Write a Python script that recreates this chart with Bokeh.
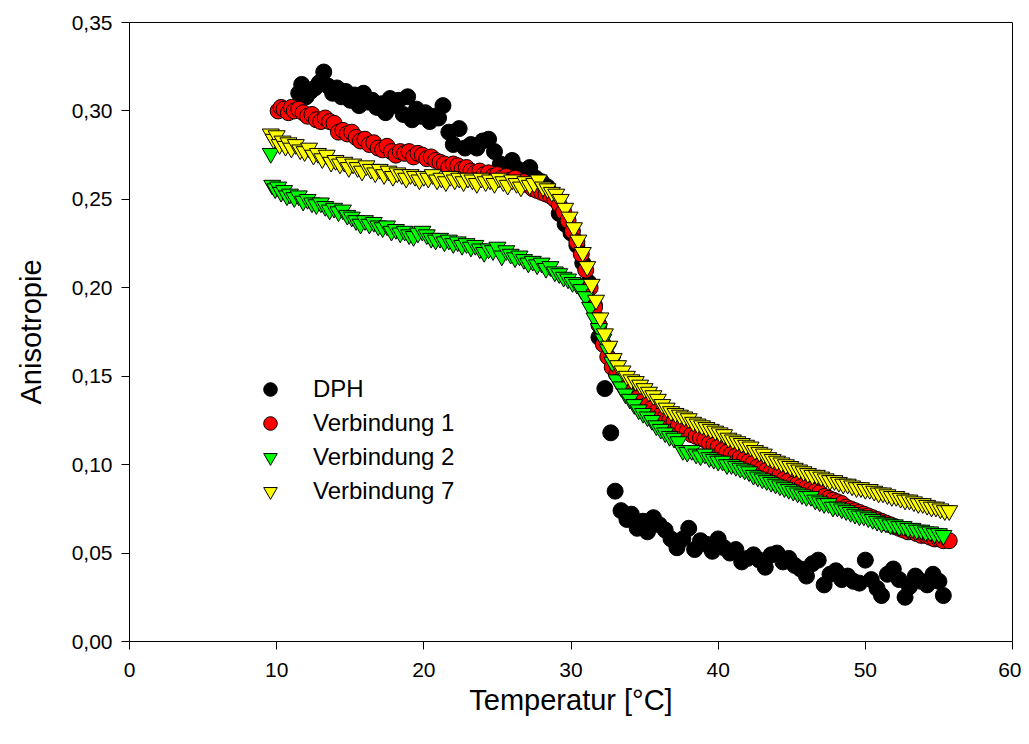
from bokeh.plotting import figure
from bokeh.models import Range1d, FixedTicker, Legend, LegendItem
from bokeh.embed import file_html
from bokeh.resources import INLINE

# ---------------- data ----------------
dph_t = [11.3, 11.5, 11.7, 12.0, 12.3, 12.6, 12.9, 13.2, 13.5, 13.8, 14.1, 14.4, 14.7, 15.0, 15.3,
         15.6, 15.9, 16.2, 16.5, 16.8, 17.1, 17.4, 17.7, 18.0, 18.3, 18.6, 18.9, 19.2, 19.5, 19.8,
         20.1, 20.4, 20.7, 21.0, 21.3, 21.7, 22.0, 22.4, 22.8, 23.2, 23.6, 24.0, 24.4, 24.8, 25.2,
         25.6, 26.0, 26.4, 26.8, 27.2, 27.6, 28.0, 28.4, 28.8, 29.2, 29.6, 30.0, 30.4, 30.8, 31.2,
         31.6, 31.9, 32.3, 32.7, 33.0, 33.4, 33.8, 34.1, 34.5, 34.9, 35.2, 35.6, 36.0, 36.4, 36.8,
         37.2, 37.6, 38.0, 38.4, 38.8, 39.2, 39.6, 40.0, 40.4, 40.8, 41.2, 41.6, 42.0, 42.4, 42.8,
         43.2, 43.6, 44.0, 44.4, 44.8, 45.2, 45.6, 46.0, 46.4, 46.8, 47.2, 47.6, 48.0, 48.4, 48.8,
         49.2, 49.6, 50.0, 50.4, 50.8, 51.1, 51.5, 51.9, 52.3, 52.7, 53.0, 53.4, 53.8, 54.2, 54.6,
         55.0, 55.3]
dph_a = [0.302, 0.310, 0.315, 0.308, 0.311, 0.313, 0.316, 0.322, 0.314, 0.310, 0.313, 0.308, 0.311, 0.306, 0.309,
         0.303, 0.310, 0.305, 0.306, 0.302, 0.304, 0.299, 0.307, 0.303, 0.306, 0.298, 0.308, 0.295, 0.301, 0.297,
         0.299, 0.294, 0.297, 0.296, 0.303, 0.288, 0.281, 0.290, 0.279, 0.281, 0.279, 0.283, 0.284, 0.277, 0.270,
         0.268, 0.272, 0.267, 0.266, 0.268, 0.262, 0.260, 0.257, 0.252, 0.242, 0.236, 0.231, 0.224, 0.214, 0.203,
         0.190, 0.172, 0.143, 0.118, 0.085, 0.074, 0.069, 0.072, 0.064, 0.068, 0.062, 0.070, 0.066, 0.063, 0.058,
         0.053, 0.058, 0.064, 0.052, 0.057, 0.055, 0.051, 0.058, 0.053, 0.050, 0.052, 0.045, 0.047, 0.049, 0.046,
         0.042, 0.049, 0.050, 0.045, 0.047, 0.043, 0.041, 0.037, 0.044, 0.046, 0.032, 0.038, 0.040, 0.035, 0.037,
         0.034, 0.033, 0.046, 0.035, 0.030, 0.026, 0.038, 0.041, 0.035, 0.025, 0.031, 0.037, 0.034, 0.032, 0.038,
         0.034, 0.026]

v1_t = [10.1, 10.3, 10.5, 10.8, 11.0, 11.2, 11.5, 11.8, 12.1, 12.4, 12.7, 13.0, 13.3, 13.6, 13.9,
        14.2, 14.5, 14.8, 15.1, 15.4, 15.7, 16.0, 16.3, 16.6, 16.9, 17.2, 17.5, 17.8, 18.1, 18.4,
        18.7, 19.0, 19.3, 19.6, 19.9, 20.2, 20.5, 20.8, 21.1, 21.4, 21.7, 22.0, 22.3, 22.6, 22.9,
        23.2, 23.5, 23.8, 24.1, 24.4, 24.7, 25.0, 25.3, 25.6, 25.9, 26.2, 26.5, 26.8, 27.1, 27.4,
        27.7, 28.0, 28.3, 28.6, 28.9, 29.2, 29.5, 29.8, 30.1, 30.4, 30.7, 31.0, 31.3, 31.6, 31.9,
        32.2, 32.5, 32.8, 33.1, 33.4, 33.7, 34.0, 34.3, 34.6, 34.9, 35.2, 35.5, 35.8, 36.1, 36.4,
        36.7, 37.0, 37.3, 37.6, 37.9, 38.2, 38.5, 38.8, 39.1, 39.4, 39.7, 40.0, 40.3, 40.6, 40.9,
        41.2, 41.5, 41.8, 42.1, 42.4, 42.7, 43.0, 43.3, 43.6, 43.9, 44.2, 44.5, 44.8, 45.1, 45.4,
        45.7, 46.0, 46.3, 46.6, 46.9, 47.2, 47.5, 47.8, 48.1, 48.4, 48.7, 49.0, 49.3, 49.6, 49.9,
        50.2, 50.5, 50.8, 51.1, 51.4, 51.7, 52.0, 52.3, 52.6, 52.9, 53.2, 53.5, 53.8, 54.1, 54.4,
        54.7, 55.0, 55.3, 55.7]
v1_a = [0.300, 0.302, 0.301, 0.299, 0.302, 0.300, 0.301, 0.299, 0.297, 0.298, 0.295, 0.294, 0.296, 0.294, 0.293,
        0.288, 0.289, 0.287, 0.288, 0.285, 0.283, 0.284, 0.281, 0.282, 0.279, 0.278, 0.280, 0.277, 0.275, 0.277,
        0.276, 0.277, 0.274, 0.276, 0.275, 0.273, 0.274, 0.272, 0.271, 0.270, 0.268, 0.270, 0.269, 0.267, 0.268,
        0.266, 0.265, 0.266, 0.264, 0.265, 0.263, 0.264, 0.262, 0.263, 0.261, 0.262, 0.259, 0.260, 0.258, 0.256,
        0.255, 0.254, 0.253, 0.252, 0.250, 0.247, 0.243, 0.238, 0.232, 0.226, 0.219, 0.210, 0.200, 0.189, 0.179,
        0.168, 0.161, 0.155, 0.151, 0.148, 0.145, 0.143, 0.140, 0.138, 0.136, 0.134, 0.132, 0.130, 0.128, 0.127,
        0.125, 0.124, 0.122, 0.120, 0.119, 0.117, 0.116, 0.115, 0.114, 0.112, 0.111, 0.110, 0.108, 0.107, 0.106,
        0.105, 0.104, 0.103, 0.102, 0.101, 0.099, 0.098, 0.097, 0.096, 0.095, 0.094, 0.092, 0.091, 0.089, 0.089,
        0.088, 0.087, 0.086, 0.085, 0.084, 0.082, 0.081, 0.080, 0.079, 0.078, 0.076, 0.075, 0.074, 0.073, 0.072,
        0.071, 0.070, 0.069, 0.068, 0.067, 0.066, 0.065, 0.064, 0.063, 0.062, 0.062, 0.061, 0.060, 0.060, 0.059,
        0.058, 0.058, 0.057, 0.057]

v2_t = [9.6, 9.7, 9.9, 10.1, 10.3, 10.5, 10.7, 10.9, 11.2, 11.5, 11.8, 12.1, 12.4, 12.7, 13.0,
        13.3, 13.6, 13.9, 14.2, 14.5, 14.8, 15.1, 15.4, 15.7, 16.0, 16.3, 16.6, 16.9, 17.2, 17.5,
        17.8, 18.1, 18.4, 18.7, 19.0, 19.3, 19.6, 19.9, 20.2, 20.5, 20.8, 21.1, 21.4, 21.7, 22.0,
        22.3, 22.6, 22.9, 23.2, 23.5, 23.8, 24.1, 24.4, 24.7, 25.0, 25.3, 25.6, 25.9, 26.2, 26.5,
        26.8, 27.1, 27.4, 27.7, 28.0, 28.3, 28.6, 28.9, 29.2, 29.5, 29.8, 30.1, 30.4, 30.7, 31.0,
        31.3, 31.6, 31.9, 32.2, 32.5, 32.8, 33.1, 33.4, 33.7, 34.0, 34.3, 34.6, 34.9, 35.2, 35.5,
        35.8, 36.1, 36.4, 36.7, 37.0, 37.3, 37.6, 37.9, 38.2, 38.5, 38.8, 39.1, 39.4, 39.7, 40.0,
        40.3, 40.6, 40.9, 41.2, 41.5, 41.8, 42.1, 42.4, 42.7, 43.0, 43.3, 43.6, 43.9, 44.2, 44.5,
        44.8, 45.1, 45.4, 45.7, 46.0, 46.3, 46.6, 46.9, 47.2, 47.5, 47.8, 48.1, 48.4, 48.7, 49.0,
        49.3, 49.6, 49.9, 50.2, 50.5, 50.8, 51.1, 51.4, 51.7, 52.0, 52.3, 52.6, 52.9, 53.2, 53.5,
        53.8, 54.1, 54.4, 54.7, 55.0, 55.3]
v2_a = [0.276, 0.258, 0.256, 0.257, 0.254, 0.255, 0.252, 0.253, 0.251, 0.252, 0.249, 0.250, 0.248, 0.247, 0.248,
        0.246, 0.244, 0.245, 0.243, 0.244, 0.241, 0.240, 0.238, 0.236, 0.238, 0.236, 0.237, 0.235, 0.234, 0.235,
        0.232, 0.233, 0.231, 0.232, 0.230, 0.229, 0.231, 0.232, 0.230, 0.228, 0.227, 0.228, 0.226, 0.227, 0.225,
        0.226, 0.224, 0.225, 0.223, 0.224, 0.222, 0.220, 0.222, 0.221, 0.223, 0.218, 0.221, 0.219, 0.217, 0.218,
        0.216, 0.214, 0.215, 0.213, 0.214, 0.211, 0.212, 0.209, 0.208, 0.206, 0.205, 0.203, 0.202, 0.199, 0.195,
        0.189, 0.183, 0.177, 0.171, 0.165, 0.158, 0.148, 0.144, 0.140, 0.137, 0.134, 0.131, 0.129, 0.127, 0.125,
        0.122, 0.120, 0.118, 0.116, 0.115, 0.113, 0.108, 0.107, 0.108, 0.106, 0.105, 0.106, 0.104, 0.103, 0.102,
        0.102, 0.100, 0.100, 0.099, 0.098, 0.097, 0.096, 0.094, 0.093, 0.092, 0.091, 0.090, 0.089, 0.088, 0.087,
        0.086, 0.085, 0.084, 0.083, 0.082, 0.082, 0.080, 0.079, 0.078, 0.078, 0.076, 0.076, 0.075, 0.074, 0.073,
        0.072, 0.071, 0.071, 0.070, 0.069, 0.068, 0.067, 0.067, 0.066, 0.066, 0.065, 0.065, 0.064, 0.064, 0.063,
        0.063, 0.062, 0.062, 0.061, 0.061, 0.060]

v7_t = [9.6, 9.8, 10.0, 10.2, 10.4, 10.6, 10.8, 11.0, 11.3, 11.6, 11.9, 12.2, 12.5, 12.8, 13.1,
        13.4, 13.7, 14.0, 14.3, 14.6, 14.9, 15.2, 15.5, 15.8, 16.1, 16.4, 16.7, 17.0, 17.3, 17.6,
        17.9, 18.2, 18.5, 18.8, 19.1, 19.4, 19.7, 20.0, 20.3, 20.6, 20.9, 21.2, 21.5, 21.8, 22.1,
        22.4, 22.7, 23.0, 23.3, 23.6, 23.9, 24.2, 24.5, 24.8, 25.1, 25.4, 25.7, 26.0, 26.3, 26.6,
        26.9, 27.2, 27.5, 27.8, 28.1, 28.4, 28.7, 29.0, 29.3, 29.6, 29.9, 30.2, 30.5, 30.8, 31.1,
        31.4, 31.7, 32.0, 32.3, 32.6, 32.9, 33.2, 33.5, 33.8, 34.1, 34.4, 34.7, 35.0, 35.3, 35.6,
        35.9, 36.2, 36.5, 36.8, 37.1, 37.4, 37.7, 38.0, 38.3, 38.6, 38.9, 39.2, 39.5, 39.8, 40.1,
        40.4, 40.7, 41.0, 41.3, 41.6, 41.9, 42.2, 42.5, 42.8, 43.1, 43.4, 43.7, 44.0, 44.3, 44.6,
        44.9, 45.2, 45.5, 45.8, 46.1, 46.4, 46.7, 47.0, 47.3, 47.6, 47.9, 48.2, 48.5, 48.8, 49.1,
        49.4, 49.7, 50.0, 50.3, 50.6, 50.9, 51.2, 51.5, 51.8, 52.1, 52.4, 52.7, 53.0, 53.3, 53.6,
        53.9, 54.2, 54.5, 54.8, 55.1, 55.4, 55.7]
v7_a = [0.287, 0.284, 0.286, 0.281, 0.283, 0.280, 0.282, 0.279, 0.281, 0.278, 0.277, 0.279, 0.275, 0.276, 0.273,
        0.275, 0.271, 0.272, 0.270, 0.271, 0.268, 0.270, 0.268, 0.266, 0.269, 0.267, 0.265, 0.267, 0.264, 0.266,
        0.263, 0.265, 0.264, 0.262, 0.264, 0.263, 0.261, 0.263, 0.262, 0.264, 0.261, 0.262, 0.260, 0.263, 0.261,
        0.262, 0.260, 0.262, 0.261, 0.259, 0.262, 0.260, 0.261, 0.259, 0.262, 0.260, 0.258, 0.261, 0.259, 0.257,
        0.260, 0.258, 0.259, 0.261, 0.257, 0.256, 0.254, 0.253, 0.250, 0.245, 0.240, 0.234, 0.227, 0.220, 0.212,
        0.202, 0.193, 0.183, 0.174, 0.167, 0.160, 0.156, 0.153, 0.150, 0.148, 0.147, 0.145, 0.143, 0.141, 0.139,
        0.137, 0.134, 0.132, 0.130, 0.129, 0.128, 0.127, 0.126, 0.124, 0.123, 0.122, 0.121, 0.120, 0.119, 0.118,
        0.117, 0.115, 0.114, 0.113, 0.112, 0.111, 0.110, 0.108, 0.107, 0.106, 0.104, 0.103, 0.102, 0.101, 0.100,
        0.099, 0.098, 0.097, 0.096, 0.095, 0.094, 0.094, 0.093, 0.092, 0.091, 0.091, 0.090, 0.089, 0.089, 0.088,
        0.087, 0.087, 0.086, 0.086, 0.085, 0.084, 0.084, 0.083, 0.082, 0.082, 0.081, 0.080, 0.080, 0.079, 0.078,
        0.078, 0.077, 0.076, 0.076, 0.075, 0.074, 0.074]

series_names = ["DPH", "Verbindung 1", "Verbindung 2", "Verbindung 7"]
y_ticks = [0.0, 0.05, 0.1, 0.15, 0.2, 0.25, 0.3, 0.35]
y_tick_labels = ["0,00", "0,05", "0,10", "0,15", "0,20", "0,25", "0,30", "0,35"]
x_ticks = [0, 10, 20, 30, 40, 50, 60]

# ---------------- figure ----------------
FONT = "Liberation Sans"
p = figure(width=1021, height=730, output_backend="svg", toolbar_location=None,
           x_range=Range1d(0, 60), y_range=Range1d(0, 0.35),
           min_border_left=129, min_border_right=9, min_border_top=22, min_border_bottom=89)
p.grid.visible = False
p.outline_line_color = "black"
p.outline_line_width = 1
p.background_fill_color = "white"
p.border_fill_color = "white"

p.xaxis.ticker = FixedTicker(ticks=x_ticks)
p.yaxis.ticker = FixedTicker(ticks=y_ticks)
p.yaxis.major_label_overrides = {t: l for t, l in zip(y_ticks, y_tick_labels)}
for ax in (p.xaxis, p.yaxis):
    ax.axis_line_color = "black"
    ax.major_tick_line_color = "black"
    ax.major_tick_out = 8
    ax.major_tick_in = 0
    ax.minor_tick_line_color = None
    ax.major_label_text_font = FONT
    ax.major_label_text_font_size = "21px"
    ax.major_label_text_color = "black"
    ax.axis_label_text_font = FONT
    ax.axis_label_text_font_size = "29px"
    ax.axis_label_text_font_style = "normal"
    ax.axis_label_text_color = "black"
p.xaxis.axis_label = "Temperatur [°C]"
p.yaxis.axis_label = "Anisotropie"
p.xaxis.major_label_standoff = 13
p.xaxis.axis_label_standoff = 4
p.yaxis.major_label_standoff = 9
p.yaxis.axis_label_standoff = 22

r0 = p.scatter(dph_t, dph_a, marker="circle", size=16, fill_color="black", line_color="black")
r1 = p.scatter(v1_t, v1_a, marker="circle", size=16, fill_color="#ff0000", line_color="black")
r2 = p.scatter(v2_t, v2_a, marker="inverted_triangle", size=17, fill_color="#00ff00", line_color="black")
r3 = p.scatter(v7_t, v7_a, marker="inverted_triangle", size=17, fill_color="#ffff00", line_color="black")

legend = Legend(items=[LegendItem(label=n, renderers=[r]) for n, r in zip(series_names, [r0, r1, r2, r3])],
                location=(121, 133), padding=0, margin=0, spacing=0,
                glyph_height=34, glyph_width=40, label_standoff=23,
                label_text_font=FONT, label_text_font_size="24px", label_text_color="black",
                background_fill_alpha=0, border_line_alpha=0)
p.add_layout(legend, "center")

open("out.html", "w").write(file_html(p, INLINE))
